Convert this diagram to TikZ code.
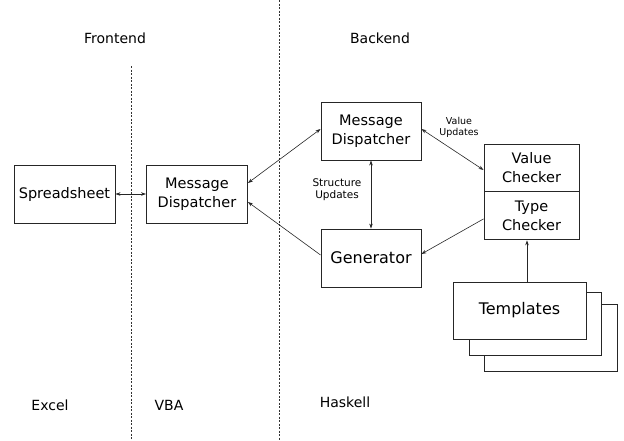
\documentclass[tikz,border=0pt]{standalone}
\usepackage{fontspec}
\setmainfont{DejaVu Sans}
\usetikzlibrary{arrows.meta}
\begin{document}
\begin{tikzpicture}[x=1pt,y=-1pt,
  box/.style={draw=black!85,line width=0.9pt,fill=white,inner sep=0pt,align=center,font=\fontsize{14.5}{19}\selectfont},
  big/.style={font=\fontsize{16}{19}\selectfont},
  lbl/.style={font=\fontsize{14}{17}\selectfont},
  small/.style={font=\fontsize{9.5}{11}\selectfont,align=center},
  divider/.style={black!80,line width=0.6pt,dash pattern=on 2pt off 1.5pt},
  link/.style={black!85,line width=0.6pt,-{Stealth[length=5pt,width=3.5pt]}},
  dlink/.style={black!85,line width=0.6pt,{Stealth[length=5pt,width=3.5pt]}-{Stealth[length=5pt,width=3.5pt]}}]
\useasboundingbox (0,0) rectangle (624,440);
% tier dividers
\draw[divider] (131,66) -- (131,440);
\draw[divider] (279,0) -- (279,440);
% headings and tier names
\node[lbl] (fe) at (115,38) {Frontend};
\node[lbl] (be) at (380,38) {Backend};
\node[lbl] (excel) at (50,405) {Excel};
\node[lbl] (vba) at (169,405) {VBA};
\node[lbl] (hs) at (345,402) {Haskell};
% template stack
\draw[box] (484,304) rectangle (617,371);
\draw[box] (469,292) rectangle (601,355);
\node[box,big,minimum width=133pt,minimum height=57pt] (tpl) at (519.5,310.5) {Templates};
% components
\node[box,minimum width=101pt,minimum height=58pt] (ss) at (64.5,194) {Spreadsheet};
\node[box,minimum width=101pt,minimum height=58pt] (vmd) at (197,194) {Message\\Dispatcher};
\node[box,minimum width=100pt,minimum height=58pt] (hmd) at (371,131) {Message\\Dispatcher};
\node[box,big,minimum width=100pt,minimum height=58pt] (gen) at (371,258) {Generator};
\node[box,minimum width=95pt,minimum height=47pt] (vc) at (531.5,167.5) {Value\\Checker};
\node[box,minimum width=95pt,minimum height=48pt,anchor=north] (tc) at (vc.south) {Type\\Checker};
% connectors
\draw[dlink] (ss.east) -- (vmd.west);
\draw[dlink] ([yshift=11pt]vmd.east) -- ([yshift=2pt]hmd.west);
\draw[link] ([yshift=3pt]gen.west) -- ([yshift=-8pt]vmd.east);
\draw[dlink] (hmd.south) -- (gen.north);
\draw[dlink] ([yshift=2pt]hmd.east) -- ([yshift=-2.5pt]vc.west);
\draw[link] ([yshift=-3pt]tc.west) -- ([yshift=4pt]gen.east);
\draw[link] (tpl.north -| 527,0) -- (tc.south -| 527,0);
% connector labels
\node[small,font=\fontsize{10.5}{12}\selectfont] (su) at (337,190) {Structure\\Updates};
\node[small] (vu) at (459,127) {Value\\Updates};
\end{tikzpicture}
\end{document}
